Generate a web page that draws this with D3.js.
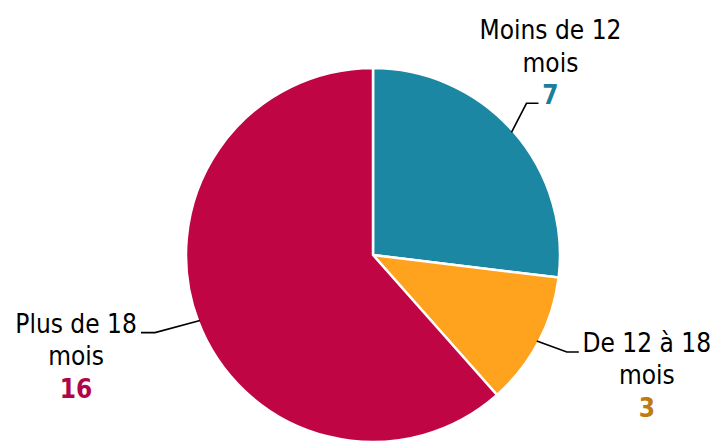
<!DOCTYPE html>
<html><head><meta charset="utf-8">
<script src="https://cdn.jsdelivr.net/npm/d3@7"></script>
<style>body{margin:0;background:#fff}svg{display:block}</style>
</head><body>
<svg id="c" width="721" height="448"></svg>
<script>
const categories = ["Moins de 12 mois", "De 12 à 18 mois", "Plus de 18 mois"];
const labelLines = [["Moins de 12", "mois"], ["De 12 à 18", "mois"], ["Plus de 18", "mois"]];
const values = [7, 3, 16];
const colors = ["#1b87a3", "#ffa31e", "#c00545"];
const numberColors = ["#1a7f9a", "#bf7a10", "#b00548"];

const svg = d3.select("#c");
const cx = 373, cy = 255, r = 187;
const g = svg.append("g").attr("transform", `translate(${cx},${cy})`);

const pie = d3.pie().sort(null).value(d => d)(values);
const arc = d3.arc().innerRadius(0).outerRadius(r);

g.selectAll("path.slice").data(pie).join("path")
  .attr("d", arc)
  .attr("fill", (d, i) => colors[i])
  .attr("stroke", "#fff").attr("stroke-width", 2.5).attr("stroke-linejoin", "round");

// leader layout: elbow offset from the arc point, horizontal run, text offset
const elbowOff = [[15, -29], [30, 11], [-45, 12]];
const runLen = [12, 12, 14];
const textDx = [12, 68, -65];
const font = "'DejaVu Sans Condensed','DejaVu Sans',sans-serif";
const fs = 26, lh = 32.5;
pie.forEach((d, i) => {
  const a = (d.startAngle + d.endAngle) / 2;
  const p0 = [Math.sin(a) * (r - 2), -Math.cos(a) * (r - 2)];
  const p1 = [p0[0] + elbowOff[i][0], p0[1] + elbowOff[i][1]];
  const right = Math.sin(a) > 0;
  const p2 = [p1[0] + (right ? runLen[i] : -runLen[i]), p1[1]];
  g.append("polyline")
    .attr("points", [p0, p1, p2].map(p => p.join(",")).join(" "))
    .attr("fill", "none").attr("stroke", "#000").attr("stroke-width", 1.6);

  const lines = labelLines[i];
  const tx = p2[0] + textDx[i];
  const ty = i === 0 ? p2[1] - lines.length * lh + 1 : p2[1];
  const t = g.append("text").attr("text-anchor", "middle")
    .attr("font-family", font).attr("font-size", fs).attr("fill", "#000");
  lines.forEach((ln, k) => {
    t.append("tspan").attr("x", tx).attr("y", ty + k * lh).text(ln);
  });
  t.append("tspan").attr("x", tx).attr("y", ty + lines.length * lh)
    .attr("font-weight", "bold").attr("fill", numberColors[i]).text(values[i]);
});
</script>
</body></html>
